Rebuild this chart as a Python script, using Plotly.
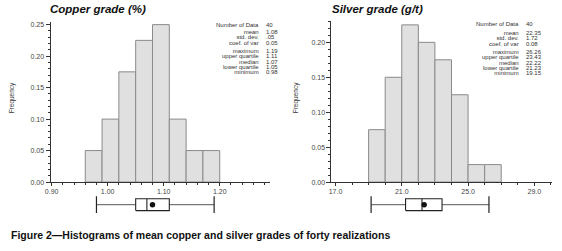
import plotly.graph_objects as go

# ---------------- data ----------------
cu_bin_edges = [0.96, 0.99, 1.02, 1.05, 1.08, 1.11, 1.14, 1.17, 1.20]
cu_freq = [0.05, 0.10, 0.175, 0.225, 0.25, 0.10, 0.05, 0.05]
ag_bin_edges = [19.0, 20.0, 21.0, 22.0, 23.0, 24.0, 25.0, 26.0, 27.0]
ag_freq = [0.075, 0.15, 0.225, 0.20, 0.175, 0.125, 0.025, 0.025]

cu_xticks = [0.90, 1.00, 1.10, 1.20]
cu_xticklabels = ["0.90", "1.00", "1.10", "1.20"]
ag_xticks = [17.0, 21.0, 25.0, 29.0]
ag_xticklabels = ["17.0", "21.0", "25.0", "29.0"]

# box plot summary values
cu_min, cu_q1, cu_med, cu_q3, cu_max, cu_mean = 0.98, 1.05, 1.07, 1.11, 1.19, 1.08
ag_min, ag_q1, ag_med, ag_q3, ag_max, ag_mean = 19.15, 21.23, 22.22, 23.43, 26.26, 22.35

stat_labels = ["Number of Data", "mean", "std. dev.", "coef. of var",
               "maximum", "upper quartile", "median", "lower quartile", "minimum"]
cu_stat_values = ["40", "1.08", ".05", "0.05", "1.19", "1.11", "1.07", "1.05", "0.98"]
ag_stat_values = ["40", "22.35", "1.72", "0.08", "26.26", "23.43", "22.22", "21.23", "19.15"]

cu_title = "Copper grade (%)"
ag_title = "Silver grade (g/t)"
caption = "Figure 2\u2014Histograms of mean copper and silver grades of forty realizations"

# ---------------- layout helpers ----------------
W, H = 562, 251
def px(x):
    return x / W
def py(y):
    return 1 - y / H

FONT = "Liberation Sans, Arial, sans-serif"
BAR_FILL = "#e0e0e0"
BAR_LINE = "#8a8a8a"
AX = "#333333"
TXT = "#333333"

fig = go.Figure()

def add_hist(edges, freq, xa, ya):
    centers = [(edges[i] + edges[i + 1]) / 2 for i in range(len(freq))]
    widths = [edges[i + 1] - edges[i] for i in range(len(freq))]
    fig.add_trace(go.Bar(x=centers, y=freq, width=widths, xaxis=xa, yaxis=ya,
                         marker=dict(color=BAR_FILL, line=dict(color=BAR_LINE, width=1)),
                         showlegend=False, hoverinfo="skip"))

def add_box(mn, q1, med, q3, mx, mean, xa, ya):
    h, c = 6, 8.5
    line = dict(color="#222222", width=1.1)
    fig.add_trace(go.Scatter(x=[mn, q1, None, q3, mx], y=[0, 0, None, 0, 0], mode="lines",
                             line=dict(color="#444444", width=0.9), xaxis=xa, yaxis=ya,
                             showlegend=False, hoverinfo="skip"))
    fig.add_trace(go.Scatter(x=[mn, mn, None, mx, mx], y=[-c, c, None, -c, c], mode="lines",
                             line=dict(color="#222222", width=1.2), xaxis=xa, yaxis=ya,
                             showlegend=False, hoverinfo="skip"))
    fig.add_trace(go.Scatter(x=[q1, q3, q3, q1, q1], y=[-h, -h, h, h, -h], mode="lines",
                             line=line, xaxis=xa, yaxis=ya, showlegend=False, hoverinfo="skip"))
    fig.add_trace(go.Scatter(x=[med, med], y=[-h, h], mode="lines", line=line,
                             xaxis=xa, yaxis=ya, showlegend=False, hoverinfo="skip"))
    fig.add_trace(go.Scatter(x=[mean], y=[0], mode="markers",
                             marker=dict(color="#111111", size=5.5), xaxis=xa, yaxis=ya,
                             showlegend=False, hoverinfo="skip"))

add_hist(cu_bin_edges, cu_freq, "x", "y")
add_hist(ag_bin_edges, ag_freq, "x2", "y2")
add_box(cu_min, cu_q1, cu_med, cu_q3, cu_max, cu_mean, "x", "y3")
add_box(ag_min, ag_q1, ag_med, ag_q3, ag_max, ag_mean, "x2", "y4")

tickfont = dict(family=FONT, size=7, color="#444444")

def xaxis_style(domain, rng, tv, tt, minor_dtick, tick0, anchor):
    return dict(domain=domain, range=rng, tickvals=tv, ticktext=tt, ticks="outside",
                ticklen=3, tickcolor=AX, showline=True, linecolor=AX, linewidth=1,
                showgrid=False, zeroline=False, tickfont=tickfont, fixedrange=True,
                anchor=anchor,
                minor=dict(dtick=minor_dtick, tick0=tick0, ticks="outside", ticklen=2,
                           tickcolor=AX, showgrid=False))

def yaxis_style(domain, rng, anchor):
    return dict(domain=domain, range=rng, dtick=0.05, tick0=0, tickformat=".2f",
                ticks="outside", ticklen=4, tickcolor=AX, showline=True, linecolor=AX,
                linewidth=1, showgrid=False, zeroline=False, tickfont=tickfont,
                anchor=anchor, fixedrange=True,
                minor=dict(dtick=0.01, tick0=0, ticks="outside", ticklen=2,
                           tickcolor=AX, showgrid=False))

fig.update_layout(
    width=W, height=H, autosize=False,
    margin=dict(l=0, r=0, t=0, b=0),
    paper_bgcolor="white", plot_bgcolor="white",
    bargap=0,
    xaxis=xaxis_style([px(45), px(267)], [0.898, 1.29], cu_xticks, cu_xticklabels, 0.02, 0.90, "y"),
    yaxis=yaxis_style([py(184), py(21)], [0, 0.2547], "x"),
    xaxis2=xaxis_style([px(329), px(552)], [16.76, 30.07], ag_xticks, ag_xticklabels, 1.0, 17.0, "y2"),
    yaxis2=yaxis_style([py(184), py(20)], [0, 0.231], "x2"),
    yaxis3=dict(domain=[py(218), py(196)], range=[-11, 11], visible=False, anchor="x",
                fixedrange=True),
    yaxis4=dict(domain=[py(218), py(196)], range=[-11, 11], visible=False, anchor="x2",
                fixedrange=True),
    font=dict(family=FONT),
)

ann = []
for t, cx in ((cu_title, 93), (ag_title, 376)):
    ann.append(dict(text="<b><i>" + t + "</i></b>", x=px(cx), y=py(8.5), xref="paper",
                    yref="paper", showarrow=False, xanchor="center", yanchor="middle",
                    font=dict(family=FONT, size=11.5, color="#111111")))
for xx in (7, 294):
    ann.append(dict(text="Frequency", x=px(xx), y=py(98), xref="paper", yref="paper",
                    showarrow=False, textangle=-90, xanchor="center", yanchor="middle",
                    font=dict(family=FONT, size=6.5, color=TXT)))

# statistics blocks: grouped lines with tight line spacing
groups = [(0, 1), (1, 4), (4, 9)]
def block(lines):
    return "<br>".join("<span style='font-size:6px'>" + s + "</span>" for s in lines)

for labels_x, vals_x, vals, centers in ((258, 261, cu_stat_values, (24, 37.5, 61.5)),
                                        (521, 524, ag_stat_values, (23, 37.7, 62.6))):
    for (a, b), cy in zip(groups, centers):
        ann.append(dict(text=block(stat_labels[a:b]), x=px(labels_x), y=py(cy),
                        xref="paper", yref="paper", showarrow=False, xanchor="right",
                        yanchor="middle", align="right",
                        font=dict(family=FONT, size=4.1, color=TXT)))
        ann.append(dict(text=block(vals[a:b]), x=px(vals_x), y=py(cy),
                        xref="paper", yref="paper", showarrow=False, xanchor="left",
                        yanchor="middle", align="left",
                        font=dict(family=FONT, size=4.1, color=TXT)))

ann.append(dict(text="<b>" + caption + "</b>", x=px(3), y=py(238), xref="paper",
                yref="paper", showarrow=False, xanchor="left", yanchor="middle",
                font=dict(family="Liberation Sans Narrow, Arial Narrow, " + FONT, size=10.5,
                          color="#111111")))
fig.update_layout(annotations=ann)

fig.write_html("out.html", config={"displayModeBar": False, "staticPlot": True},
               post_script="document.body.style.margin='0';document.body.style.overflow='hidden';")
